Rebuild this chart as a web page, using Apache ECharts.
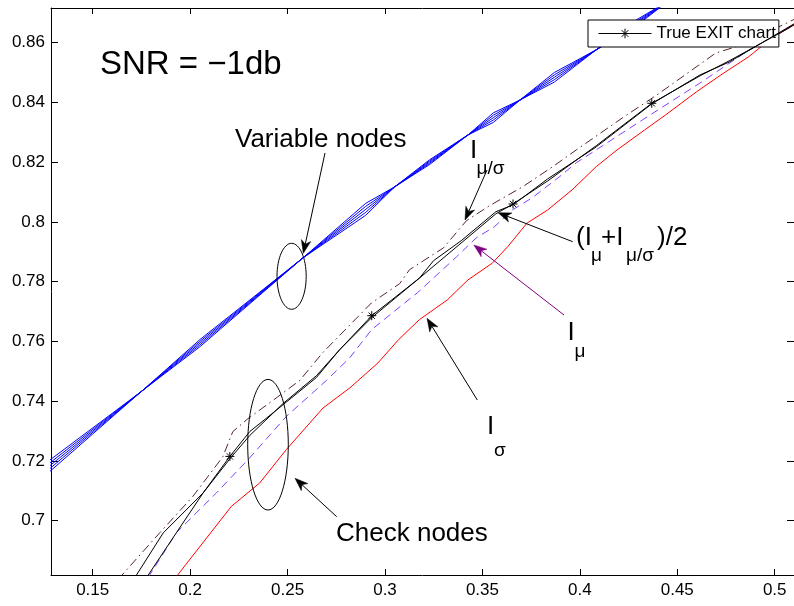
<!DOCTYPE html>
<html><head><meta charset="utf-8">
<script src="https://cdn.jsdelivr.net/npm/echarts@6/dist/echarts.min.js"></script>
<style>html,body{margin:0;padding:0;background:#fff}#c{width:794px;height:606px}</style>
</head><body><div id="c"></div>
<script>
// ---- axes ----
const xTicks = [0.15, 0.2, 0.25, 0.3, 0.35, 0.4, 0.45, 0.5];
const yTicks = [0.70, 0.72, 0.74, 0.76, 0.78, 0.80, 0.82, 0.84, 0.86];
const xMin = 0.1286, xMax = 0.5099, yMin = 0.6818, yMax = 0.8716;

// ---- variable-node curves (5 braided curves) ----
const vnX  = [0.1256,0.1751,0.2050,0.2578,0.2901,0.3049,0.3229,0.3426,0.3556,0.3693,0.3869,0.4084,0.4253,0.4458];
const vnY1 = [0.7151,0.7433,0.7606,0.7879,0.8022,0.8117,0.8208,0.8291,0.8333,0.8408,0.8500,0.8576,0.8638,0.8741];
const vnY2 = [0.7161,0.7433,0.7600,0.7879,0.8032,0.8117,0.8204,0.8291,0.8341,0.8408,0.8492,0.8576,0.8644,0.8741];
const vnY3 = [0.7171,0.7433,0.7594,0.7879,0.8042,0.8117,0.8200,0.8291,0.8349,0.8408,0.8484,0.8576,0.8650,0.8741];
const vnY4 = [0.7181,0.7433,0.7588,0.7879,0.8052,0.8117,0.8196,0.8291,0.8357,0.8408,0.8476,0.8576,0.8656,0.8741];
const vnY5 = [0.7191,0.7433,0.7582,0.7879,0.8062,0.8117,0.8192,0.8291,0.8365,0.8408,0.8468,0.8576,0.8662,0.8741];

// ---- check-node curves ----
// I_mu/sigma (dash-dot)
const musX = [0.1630,0.1845,0.2014,0.2168,0.2219,0.2296,0.2424,0.2562,0.2680,0.2931,0.3075,0.3126,0.3300,0.3418,0.3536,0.3705,0.3859,0.3982,0.4218,0.4402,0.4699,0.4802,0.5022,0.5125];
const musY = [0.6803,0.6960,0.7081,0.7214,0.7298,0.7341,0.7402,0.7469,0.7562,0.7729,0.7793,0.7840,0.7913,0.8004,0.8054,0.8117,0.8184,0.8241,0.8348,0.8428,0.8566,0.8586,0.8653,0.8686];
// (I_mu + I_mu/sigma)/2 (black)
const avgX = [0.1717,0.1862,0.2067,0.2209,0.2306,0.2477,0.2648,0.2767,0.2931,0.3177,0.3249,0.3391,0.3569,0.3657,0.3835,0.4084,0.4369,0.4617,0.4766,0.5037,0.5125];
const avgY = [0.6810,0.6959,0.7093,0.7211,0.7285,0.7392,0.7485,0.7572,0.7679,0.7812,0.7870,0.7937,0.8034,0.8057,0.8144,0.8251,0.8395,0.8492,0.8535,0.8639,0.8673];
// True EXIT chart (black with * markers)
const trueX = [0.1777,0.1930,0.2067,0.2204,0.2306,0.2477,0.2648,0.2767,0.2932,0.3177,0.3569,0.3657,0.3835,0.4084,0.4369,0.4617,0.4766,0.5037,0.5125];
const trueY = [0.6810,0.6960,0.7093,0.7215,0.7298,0.7388,0.7479,0.7572,0.7686,0.7812,0.8027,0.8060,0.8137,0.8255,0.8397,0.8489,0.8539,0.8636,0.8669];
const trueMarked = [3, 8, 11, 14];
// I_mu (dashed)
const muX = [0.1785,0.1930,0.2135,0.2297,0.2494,0.2699,0.2819,0.2931,0.3090,0.3167,0.3367,0.3469,0.3562,0.3654,0.3756,0.3895,0.3982,0.4320,0.4617,0.4853,0.5022,0.5125];
const muY = [0.6810,0.6960,0.7093,0.7204,0.7349,0.7469,0.7545,0.7639,0.7723,0.7763,0.7883,0.7947,0.7984,0.8040,0.8081,0.8151,0.8198,0.8341,0.8465,0.8569,0.8632,0.8666];
// I_sigma (red)
const sigX = [0.1918,0.2212,0.2357,0.2494,0.2682,0.2819,0.2964,0.3070,0.3177,0.3320,0.3426,0.3551,0.3631,0.3729,0.3835,0.3960,0.4084,0.4191,0.4333,0.4440,0.4600,0.4724,0.4867,0.4973,0.5094,0.5150];
const sigY = [0.6803,0.7048,0.7126,0.7238,0.7377,0.7444,0.7528,0.7606,0.7673,0.7739,0.7806,0.7862,0.7918,0.7996,0.8040,0.8107,0.8185,0.8241,0.8308,0.8358,0.8436,0.8492,0.8553,0.8609,0.8659,0.8680];

const FONT = '"Liberation Sans", Arial, Helvetica, sans-serif';
const zip = (xs, ys) => xs.map((x, i) => [x, ys[i]]);
const STAR = 'path://M0,-10L0,10M-10,0L10,0M-7,-7L7,7M-7,7L7,-7';

const chart = echarts.init(document.getElementById('c'), null, {renderer: 'canvas'});

function lineSeries(name, xs, ys, color, type, z) {
  return {
    name: name, type: 'line', data: zip(xs, ys), showSymbol: false, symbol: 'none',
    silent: true, z: z || 2, animation: false,
    lineStyle: {color: color, width: 1, type: type || 'solid'}
  };
}

const series = [];
[vnY1, vnY2, vnY3, vnY4, vnY5].forEach((ys, i) => series.push(lineSeries('vn' + i, vnX, ys, '#0000ff', 'solid', 2)));
series.push(lineSeries('Imusig', musX, musY, '#5a2626', [9, 4, 1.5, 4], 3));
series.push(lineSeries('Imu', muX, muY, '#8040ff', [8, 5], 3));
series.push(lineSeries('Isig', sigX, sigY, '#ff0000', 'solid', 3));
series.push(lineSeries('avg', avgX, avgY, '#000000', 'solid', 4));
series.push({
  name: 'True EXIT chart', type: 'line', silent: true, animation: false, z: 5,
  symbol: STAR, symbolSize: 9, showSymbol: true, showAllSymbol: true,
  itemStyle: {color: 'none', borderColor: '#000', borderWidth: 1},
  lineStyle: {color: '#000', width: 1},
  data: trueX.map((x, i) => trueMarked.indexOf(i) >= 0
    ? {value: [x, trueY[i]]}
    : {value: [x, trueY[i]], symbol: 'none'})
});

// ---- annotations (pixel positions) ----
const graphics = [];
function txt(t, x, y, fs) {
  graphics.push({type: 'text', x: x, y: y, z: 100, silent: true,
    style: {text: t, fontSize: fs, fontFamily: FONT, fill: '#000',
      align: 'left', verticalAlign: 'middle', textAlign: 'left', textVerticalAlign: 'middle'}});
}
function arrow(x1, y1, x2, y2, color) {
  const L = 13, W = 4.8, dx = x2 - x1, dy = y2 - y1, len = Math.hypot(dx, dy);
  const ux = dx / len, uy = dy / len, px = -uy, py = ux;
  const bx = x2 - L * ux, by = y2 - L * uy;
  const nx = x2 - 0.72 * L * ux, ny = y2 - 0.72 * L * uy;
  graphics.push({type: 'line', z: 100, silent: true, shape: {x1: x1, y1: y1, x2: nx, y2: ny},
    style: {stroke: color, lineWidth: 1}});
  graphics.push({type: 'polygon', z: 100, silent: true,
    shape: {points: [[x2, y2], [bx + W * px, by + W * py], [nx, ny], [bx - W * px, by - W * py]]},
    style: {fill: color, stroke: color, lineWidth: 0.5}});
}
function ell(cx, cy, rx, ry) {
  graphics.push({type: 'ellipse', z: 100, silent: true, shape: {cx: cx, cy: cy, rx: rx, ry: ry},
    style: {fill: 'none', stroke: '#000', lineWidth: 1}});
}
txt('SNR = \u22121db', 100, 65, 33);
txt('Variable nodes', 235, 140, 26);
txt('Check nodes', 336, 534, 26);
txt('I', 470, 151, 26); txt('\u03bc/\u03c3', 476.5, 169, 19);
txt('(I', 576, 237.5, 26); txt('\u03bc', 591, 256, 19); txt('+I', 601, 237.5, 26);
txt('\u03bc/\u03c3', 626, 256, 19); txt(')/2', 657, 237.5, 26);
txt('I', 567.5, 332.5, 26); txt('\u03bc', 574.5, 351.5, 19);
txt('I', 487, 427, 26); txt('\u03c3', 494, 451, 19);
ell(291.6, 276.3, 14.6, 33);
ell(268, 444.7, 20.3, 65.3);
arrow(325, 153, 303.3, 253.3, '#000');
arrow(487, 170, 465, 220, '#000');
arrow(572.7, 241.7, 498.1, 212.7, '#000');
arrow(564, 315, 473.8, 245, '#800080');
arrow(477.3, 400, 427, 318.3, '#000');
arrow(336.7, 516.7, 295, 478.3, '#000');

const axisLineStyle = {show: true, onZero: false, lineStyle: {color: '#000', width: 1}};
const fmt = v => String(Math.round(v * 100) / 100);

chart.setOption({
  animation: false,
  backgroundColor: '#fff',
  grid: {left: 51, top: 8, width: 744, height: 567, containLabel: false},
  legend: {
    data: ['True EXIT chart'], left: 588, top: 20, orient: 'horizontal',
    backgroundColor: '#fff', borderColor: '#000', borderWidth: 1, borderRadius: 0,
    padding: [5, 3, 5, 10], itemWidth: 53, itemHeight: 12, itemGap: 0,
    lineStyle: {width: 1}, itemStyle: {borderWidth: 1},
    textStyle: {fontSize: 17, fontFamily: FONT, color: '#000'}
  },
  xAxis: [
    {type: 'value', min: xMin, max: xMax, position: 'bottom', axisLine: axisLineStyle,
      axisTick: {show: true, inside: true, length: 6, customValues: xTicks, lineStyle: {color: '#000'}},
      axisLabel: {show: true, customValues: xTicks, formatter: fmt, fontSize: 17, fontFamily: FONT, color: '#000', margin: 7},
      splitLine: {show: false}},
    {type: 'value', min: xMin, max: xMax, position: 'top', axisLine: axisLineStyle,
      axisTick: {show: true, inside: true, length: 6, customValues: xTicks, lineStyle: {color: '#000'}},
      axisLabel: {show: false}, splitLine: {show: false}}
  ],
  yAxis: [
    {type: 'value', min: yMin, max: yMax, position: 'left', axisLine: axisLineStyle,
      axisTick: {show: true, inside: true, length: 7, customValues: yTicks, lineStyle: {color: '#000'}},
      axisLabel: {show: true, customValues: yTicks, formatter: fmt, fontSize: 17, fontFamily: FONT, color: '#000', margin: 6},
      splitLine: {show: false}},
    {type: 'value', min: yMin, max: yMax, position: 'right', axisLine: axisLineStyle,
      axisTick: {show: true, inside: true, length: 7, customValues: yTicks, lineStyle: {color: '#000'}},
      axisLabel: {show: false}, splitLine: {show: false}}
  ],
  series: series,
  graphic: graphics
});
</script></body></html>
